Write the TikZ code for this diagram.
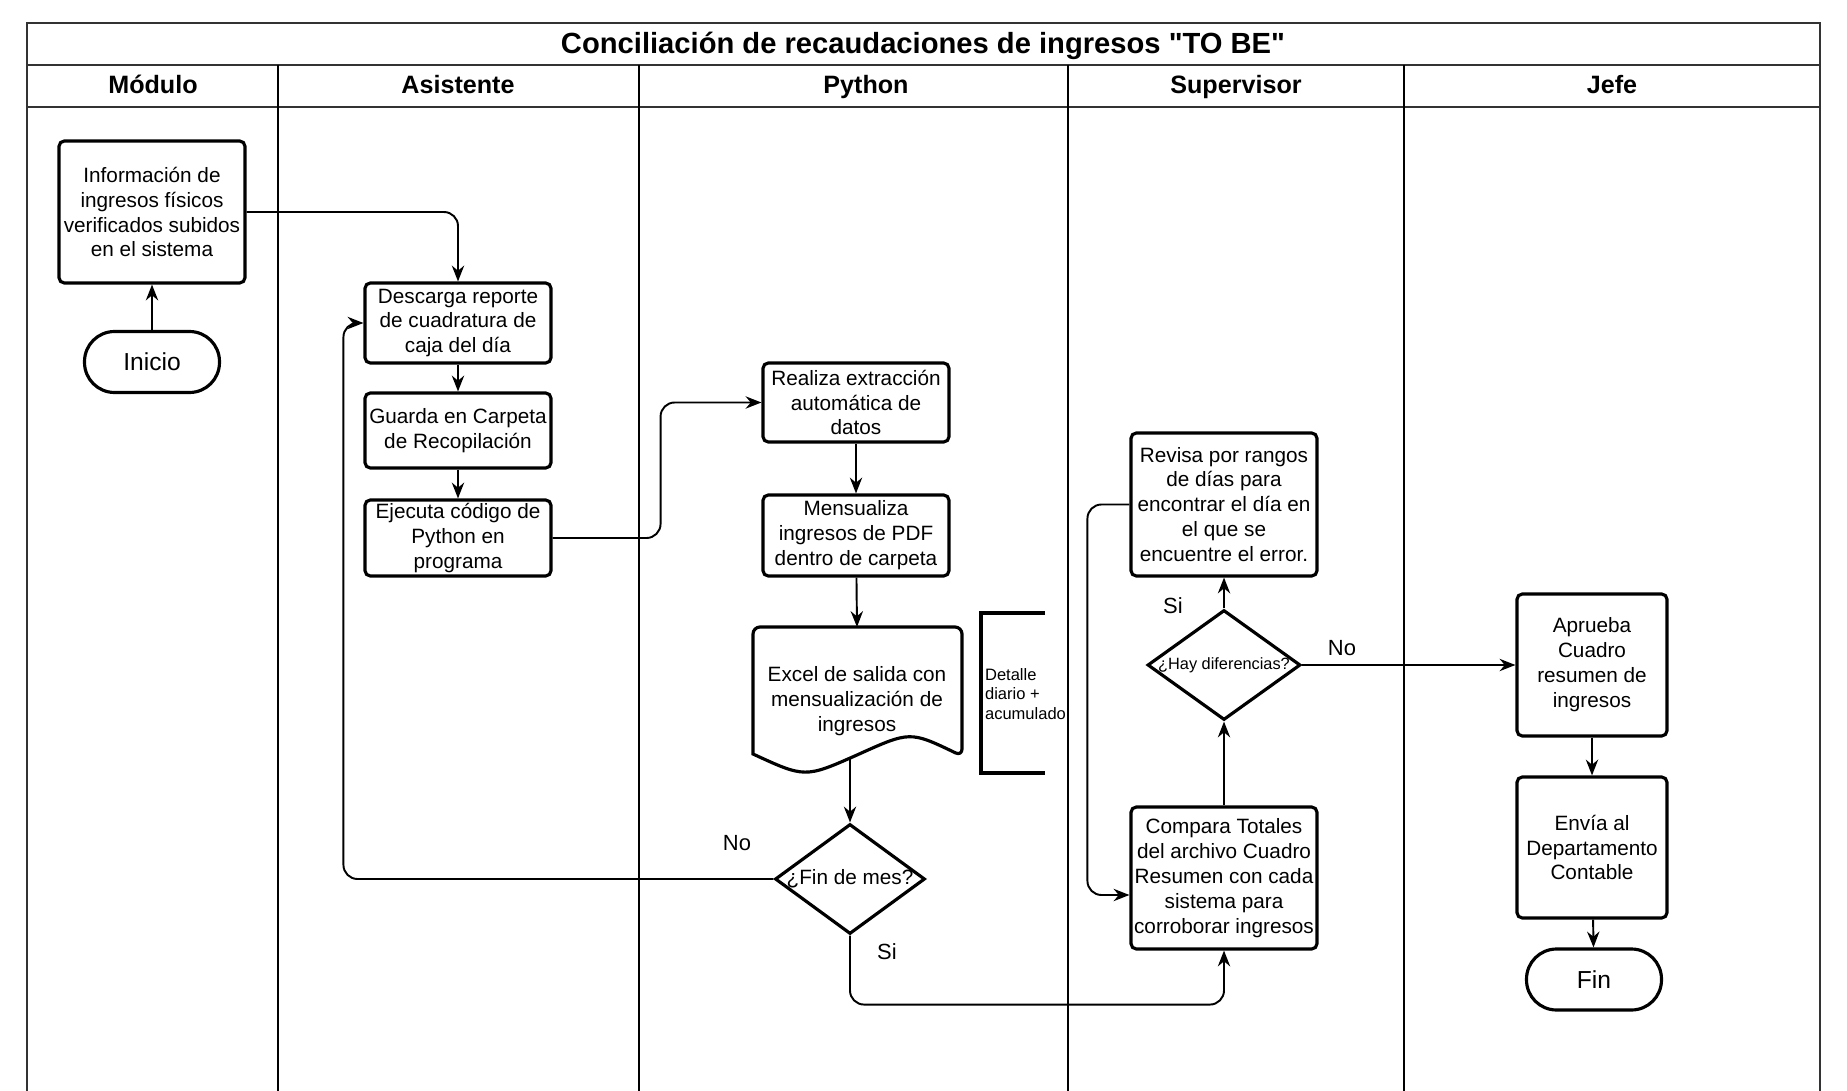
\documentclass[tikz,border=0pt]{standalone}
\usepackage{fontspec}
\setmainfont{Liberation Sans}[Ligatures=TeXOff]
\usepackage{tikz}
\usetikzlibrary{arrows.meta}
\usetikzlibrary{shapes.geometric}

\begin{document}
\begin{tikzpicture}[x=0.02cm,y=-0.02cm,
  every node/.style={font=\fontsize{11.8}{14.2}\selectfont, align=center, inner sep=1pt},
  proceso/.style={draw, line width=1.8pt, rounded corners=3pt, minimum width=3.72cm},
  terminal/.style={draw, line width=1.8pt, rounded corners=0.6cm, minimum width=2.7cm, minimum height=1.22cm, font=\fontsize{14}{16}\selectfont},
  decision/.style={draw, diamond, line width=1.8pt, inner sep=0pt, minimum width=3cm, minimum height=2.2cm},
  marco/.style={line width=1.3pt, draw=black!80},
  carril/.style={line width=0.9pt},
  cabecera/.style={anchor=base, font=\fontsize{14.3}{17}\selectfont\bfseries},
  flecha/.style={-{Stealth[length=9pt,width=7pt]}, line width=1.1pt, rounded corners=8pt},
  etiqueta/.style={font=\fontsize{12.5}{14}\selectfont}]
  \useasboundingbox (0,0) rectangle (1847,1091);
  \draw[marco] (27,1091) -- (27,23) -- (1820,23) -- (1820,1091);
  \draw[marco] (27,65) -- (1820,65) (27,107) -- (1820,107);
  \foreach \x in {278,639,1068,1404}
    \draw[carril] (\x,65) -- (\x,1091);
  \node[anchor=base, font=\fontsize{16.6}{19}\selectfont\bfseries] (titulo) at (923,54) {Conciliación de recaudaciones de ingresos "TO BE"};
  \foreach \nombre/\x [count=\i] in {Módulo/153,Asistente/458,Python/866,Supervisor/1236,Jefe/1612}
    \node[cabecera] (cab-\i) at (\x,94) {\nombre};

  \node[terminal] (inicio) at (152,362) {Inicio};
  \node[proceso, minimum height=2.84cm] (info) at (152,212) {Información de\\ingresos físicos\\verificados subidos\\en el sistema};
  \node[proceso, minimum height=1.6cm] (descarga) at (458,323) {Descarga reporte\\de cuadratura de\\caja del día};
  \node[proceso, minimum height=1.5cm] (guarda) at (458,430.5) {Guarda en Carpeta\\de Recopilación};
  \node[proceso, minimum height=1.52cm] (ejecuta) at (458,538) {Ejecuta código de\\Python en\\programa};
  \node[proceso, minimum height=1.58cm] (realiza) at (856,402.5) {Realiza extracción\\automática de\\datos};
  \node[proceso, minimum height=1.62cm] (mensualiza) at (856,535.5) {Mensualiza\\ingresos de PDF\\dentro de carpeta};
  \node (excel) at (857,701) {Excel de salida con\\mensualización de\\ingresos};
  \draw[line width=1.8pt] (962,756) .. controls (910,731) .. (857,755) .. controls (805,778) .. (753,754) [rounded corners=4pt] -- (753,627) -- (962,627) -- cycle;
  \coordinate (excel-sal) at (850,758);
  \node[decision, label=center:{¿Fin de mes?}] (findemes) at (850,879) {};
  \draw[line width=1.8pt] (1045,613) -- (981,613) -- (981,773) -- (1045,773);
  \node[anchor=west, align=left, font=\fontsize{9.4}{11.3}\selectfont] (nota) at (983,694) {Detalle\\diario +\\acumulado};

  \node[proceso, minimum height=2.86cm] (revisa) at (1224,504.5) {Revisa por rangos\\de días para\\encontrar el día en\\el que se\\encuentre el error.};
  \node[decision, minimum width=3.06cm, label=center:{\fontsize{9.3}{11}\selectfont ¿Hay diferencias?}] (hay) at (1224,665) {};
  \node[proceso, minimum height=2.84cm] (compara) at (1224,878) {Compara Totales\\del archivo Cuadro\\Resumen con cada\\sistema para\\corroborar ingresos};

  \node[proceso, minimum width=3cm, minimum height=2.84cm] (aprueba) at (1592,665) {Aprueba\\Cuadro\\resumen de\\ingresos};
  \node[proceso, minimum width=3cm, minimum height=2.82cm] (envia) at (1592,847.5) {Envía al\\Departamento\\Contable};
  \node[terminal] (fin) at (1594,979.5) {Fin};

  \path[flecha]
    (inicio) edge (info)
    (descarga) edge (guarda)
    (guarda) edge (ejecuta)
    (realiza) edge (mensualiza)
    (mensualiza) edge (excel.north |- 0,627)
    (excel-sal) edge (findemes.north)
    (compara) edge (hay)
    (hay) edge (revisa)
    (hay) edge (aprueba)
    (aprueba) edge (envia)
    (envia) edge (fin);
  \draw[flecha] (info.east) -| (descarga.north);
  \draw[flecha] (ejecuta.east) -- ++(108,0) |- (realiza.west);
  \draw[flecha] (findemes.west) -| ([xshift=-0.4cm]descarga.west) -- (descarga.west);
  \draw[flecha] (findemes.south) -- ++(0,69) -| (compara.south);
  \draw[flecha] (revisa.west) -- ++(-42,0) |- ([yshift=-0.34cm]compara.west);

  \node[etiqueta] (no-mes) at (737,843) {No};
  \node[etiqueta] (si-mes) at (887,952) {Si};
  \node[etiqueta] (si-dif) at (1173,606) {Si};
  \node[etiqueta] (no-dif) at (1342,648) {No};
\end{tikzpicture}
\end{document}
